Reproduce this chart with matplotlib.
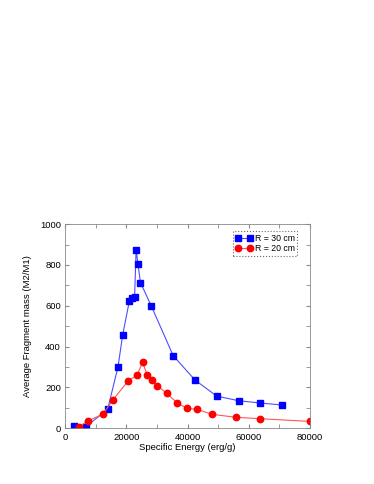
import numpy as np
import matplotlib.pyplot as plt
from matplotlib.ticker import MultipleLocator

plt.rcParams['font.family'] = ['Liberation Sans', 'DejaVu Sans']

# Average fragment mass vs specific energy
energy_30 = [3050, 6800, 13900, 17300, 18800, 21000, 22000, 22700, 23200,
             23800, 24600, 28100, 35300, 42400, 49500, 56700, 63800, 71000]
mass_30 = [11, 8, 93, 302, 457, 624, 637, 642, 875,
           805, 714, 601, 356, 237, 158, 135, 124, 114]

energy_20 = [4400, 7600, 12400, 15600, 20600, 23600, 25300, 26800, 28400,
             30100, 33200, 36500, 39800, 43000, 47900, 55800, 63800, 80000]
mass_20 = [8, 37, 70, 139, 232, 261, 325, 261, 237,
           209, 171, 126, 98, 93, 69, 54, 47, 34]

labels = ['R = 30 cm', 'R = 20 cm']

fig = plt.figure(figsize=(3.74, 4.84), dpi=100)
ax = fig.add_axes([0.174, 0.115, 0.655, 0.422])

ax.plot(energy_30, mass_30, color='#4d4dff', lw=0.8, marker='s', ms=4,
        mfc='blue', mec='blue', label=labels[0])
ax.plot(energy_20, mass_20, color='#ff5555', lw=0.8, marker='o', ms=4.6,
        mfc='red', mec='red', label=labels[1])

ax.set_xlim(0, 80000)
ax.set_ylim(0, 1000)
ax.xaxis.set_major_locator(MultipleLocator(20000))
ax.xaxis.set_minor_locator(MultipleLocator(10000))
ax.yaxis.set_major_locator(MultipleLocator(200))
ax.yaxis.set_minor_locator(MultipleLocator(100))
ax.tick_params(which='both', direction='in', top=True, right=True,
               labelsize=6.8, color='#888888', pad=3)
ax.tick_params(which='major', length=3)
ax.tick_params(which='minor', length=3)
for s in ax.spines.values():
    s.set_color('#888888')
    s.set_linewidth(0.6)

ax.set_xlabel('Specific Energy (erg/g)', fontsize=6.8, labelpad=1)
ax.set_ylabel('Average Fragment mass (M2/M1)', fontsize=6.8, labelpad=6)

leg = ax.legend(loc='upper right', numpoints=2, fontsize=6.3, frameon=True,
                fancybox=False, borderpad=0.3, handlelength=2.0,
                handletextpad=0.2, labelspacing=0.15,
                bbox_to_anchor=(0.948, 0.964), borderaxespad=0)
leg.get_frame().set_edgecolor('#444444')
leg.get_frame().set_linestyle(':')
leg.get_frame().set_linewidth(0.8)

fig.savefig('out.png', dpi=100)
